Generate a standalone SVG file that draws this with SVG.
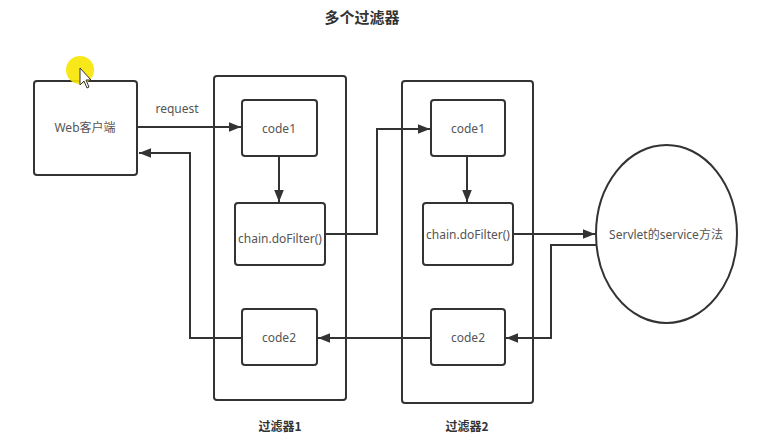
<svg xmlns="http://www.w3.org/2000/svg" width="766" height="441" viewBox="0 0 766 441">
<defs>
<style>
.box{fill:#fff;stroke:#333;stroke-width:2}
.out{fill:none;stroke:#333;stroke-width:2}
.ln{fill:none;stroke:#333;stroke-width:2}
.t{font-family:"Noto Sans","Noto Sans CJK SC",sans-serif;font-size:12px;fill:#555;text-anchor:middle}
.b{font-family:"Noto Sans CJK SC","Noto Sans",sans-serif;font-weight:bold;fill:#333;text-anchor:middle}
</style>
<marker id="ah" viewBox="0 0 10 10" refX="10" refY="5" markerWidth="6" markerHeight="6" orient="auto" markerUnits="strokeWidth">
<path d="M0,1 L10,5 L0,9 z" fill="#333"/>
</marker>
</defs>
<rect width="766" height="441" fill="#fff"/>
<text class="b" x="362" y="23" font-size="15">多个过滤器</text>
<g id="filter1">
<rect class="out" x="214" y="76" width="132" height="324" rx="3"/>
<text class="b" x="280" y="431" font-size="12">过滤器1</text>
</g>
<g id="filter2">
<rect class="out" x="402" y="81" width="131" height="322" rx="3"/>
<text class="b" x="467" y="431" font-size="12">过滤器2</text>
</g>
<g id="connectors">
<path class="ln" d="M137,127 H241" marker-end="url(#ah)"/>
<path class="ln" d="M279,156 V202" marker-end="url(#ah)"/>
<path class="ln" d="M325,234 H377 V129 H430" marker-end="url(#ah)"/>
<path class="ln" d="M467,156 V202" marker-end="url(#ah)"/>
<path class="ln" d="M513,234 H595" marker-end="url(#ah)"/>
<path class="ln" d="M597,245 H551 V338 H506" marker-end="url(#ah)"/>
<path class="ln" d="M431,338 H318" marker-end="url(#ah)"/>
<path class="ln" d="M242,338 H190 V153 H139" marker-end="url(#ah)"/>
</g>
<text class="t" x="177" y="113">request</text>
<g id="client">
<rect class="box" x="34" y="81" width="103" height="94" rx="3"/>
<text class="t" x="85" y="132">Web客户端</text>
</g>
<g id="f1code1">
<rect class="box" x="242" y="100" width="75" height="56" rx="3"/>
<text class="t" x="279" y="133">code1</text>
</g>
<g id="f1chain">
<rect class="box" x="235" y="203" width="90" height="62" rx="3"/>
<text class="t" x="280" y="243">chain.doFilter()</text>
</g>
<g id="f1code2">
<rect class="box" x="242" y="309" width="75" height="56" rx="3"/>
<text class="t" x="279" y="342">code2</text>
</g>
<g id="f2code1">
<rect class="box" x="431" y="100" width="74" height="56" rx="3"/>
<text class="t" x="468" y="133">code1</text>
</g>
<g id="f2chain">
<rect class="box" x="423" y="203" width="90" height="62" rx="3"/>
<text class="t" x="468" y="239">chain.doFilter()</text>
</g>
<g id="f2code2">
<rect class="box" x="431" y="309" width="74" height="56" rx="3"/>
<text class="t" x="468" y="342">code2</text>
</g>
<g id="servlet">
<ellipse class="box" cx="666.5" cy="234" rx="70.5" ry="89"/>
<text class="t" x="666" y="239">Servlet的service方法</text>
</g>
<circle cx="80" cy="70" r="14" fill="#f7e600" opacity="0.9"/>
<path d="M80,68 L80,85 L84,81 L87,88 L89,87 L86,80 L91,80 z" fill="#fff" stroke="#333" stroke-width="1"/>
</svg>
